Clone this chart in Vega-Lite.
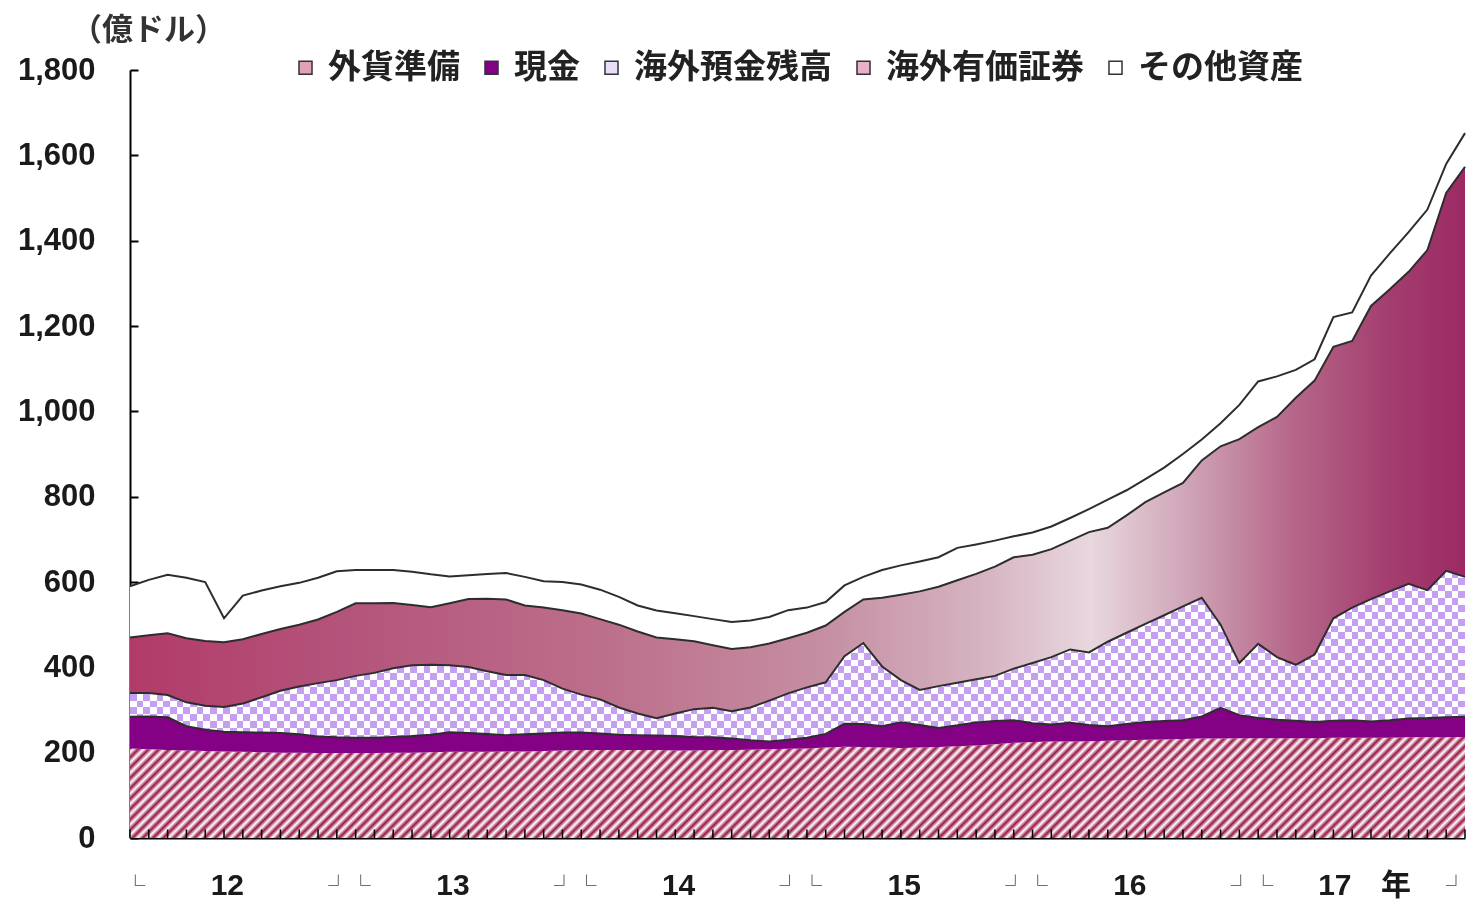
{
"$schema":"https://vega.github.io/schema/vega-lite/v6.json",
"width":1335,"height":768,
"autosize":{"type":"none"},
"padding":{"left":130,"top":70,"right":3,"bottom":62},
"background":"white",
"config":{"view":{"stroke":null},"axis":{"grid":false}},
"data":{"values":[
{"m":0,"fx":210,"cash":74,"deposit":56,"security":130,"other":120},
{"m":1,"fx":208,"cash":77,"deposit":55,"security":135,"other":130},
{"m":2,"fx":206,"cash":77,"deposit":52,"security":145,"other":137},
{"m":3,"fx":205,"cash":57,"deposit":56,"security":150,"other":142},
{"m":4,"fx":204,"cash":50,"deposit":56,"security":152,"other":138},
{"m":5,"fx":203,"cash":46,"deposit":58,"security":152,"other":56},
{"m":6,"fx":202,"cash":46,"deposit":67,"security":151,"other":102},
{"m":7,"fx":201,"cash":46,"deposit":83,"security":148,"other":102},
{"m":8,"fx":200,"cash":46,"deposit":99,"security":145,"other":100},
{"m":9,"fx":200,"cash":43,"deposit":112,"security":145,"other":98},
{"m":10,"fx":199,"cash":39,"deposit":125,"security":149,"other":98},
{"m":11,"fx":199,"cash":37,"deposit":134,"security":160,"other":95},
{"m":12,"fx":199,"cash":36,"deposit":145,"security":170,"other":78},
{"m":13,"fx":199,"cash":36,"deposit":152,"security":163,"other":78},
{"m":14,"fx":200,"cash":37,"deposit":161,"security":153,"other":77},
{"m":15,"fx":200,"cash":39,"deposit":166,"security":141,"other":78},
{"m":16,"fx":201,"cash":41,"deposit":164,"security":135,"other":77},
{"m":17,"fx":202,"cash":46,"deposit":157,"security":145,"other":63},
{"m":18,"fx":202,"cash":44,"deposit":155,"security":159,"other":56},
{"m":19,"fx":202,"cash":42,"deposit":147,"security":170,"other":58},
{"m":20,"fx":203,"cash":38,"deposit":141,"security":177,"other":62},
{"m":21,"fx":203,"cash":40,"deposit":139,"security":163,"other":67},
{"m":22,"fx":204,"cash":41,"deposit":125,"security":170,"other":62},
{"m":23,"fx":205,"cash":42,"deposit":103,"security":184,"other":66},
{"m":24,"fx":206,"cash":41,"deposit":89,"security":190,"other":68},
{"m":25,"fx":206,"cash":39,"deposit":80,"security":188,"other":69},
{"m":26,"fx":206,"cash":36,"deposit":64,"security":194,"other":65},
{"m":27,"fx":206,"cash":35,"deposit":51,"security":192,"other":61},
{"m":28,"fx":206,"cash":34,"deposit":41,"security":189,"other":63},
{"m":29,"fx":205,"cash":34,"deposit":53,"security":174,"other":61},
{"m":30,"fx":205,"cash":32,"deposit":65,"security":159,"other":59},
{"m":31,"fx":206,"cash":30,"deposit":69,"security":147,"other":61},
{"m":32,"fx":206,"cash":27,"deposit":64,"security":146,"other":63},
{"m":33,"fx":207,"cash":22,"deposit":77,"security":141,"other":63},
{"m":34,"fx":208,"cash":18,"deposit":96,"security":134,"other":62},
{"m":35,"fx":209,"cash":21,"deposit":109,"security":129,"other":66},
{"m":36,"fx":210,"cash":25,"deposit":118,"security":128,"other":59},
{"m":37,"fx":212,"cash":32,"deposit":121,"security":133,"other":55},
{"m":38,"fx":214,"cash":54,"deposit":158,"security":104,"other":62},
{"m":39,"fx":213,"cash":54,"deposit":190,"security":102,"other":53},
{"m":40,"fx":212,"cash":50,"deposit":140,"security":161,"other":65},
{"m":41,"fx":211,"cash":60,"deposit":99,"security":200,"other":69},
{"m":42,"fx":212,"cash":53,"deposit":82,"security":231,"other":70},
{"m":43,"fx":213,"cash":45,"deposit":98,"security":233,"other":69},
{"m":44,"fx":215,"cash":49,"deposit":100,"security":240,"other":76},
{"m":45,"fx":217,"cash":54,"deposit":101,"security":247,"other":69},
{"m":46,"fx":220,"cash":54,"deposit":106,"security":256,"other":61},
{"m":47,"fx":223,"cash":53,"deposit":121,"security":261,"other":49},
{"m":48,"fx":225,"cash":44,"deposit":141,"security":254,"other":52},
{"m":49,"fx":226,"cash":40,"deposit":158,"security":253,"other":53},
{"m":50,"fx":226,"cash":44,"deposit":172,"security":255,"other":53},
{"m":51,"fx":227,"cash":38,"deposit":170,"security":282,"other":54},
{"m":52,"fx":228,"cash":34,"deposit":198,"security":267,"other":66},
{"m":53,"fx":229,"cash":38,"deposit":214,"security":275,"other":59},
{"m":54,"fx":230,"cash":42,"deposit":230,"security":285,"other":54},
{"m":55,"fx":231,"cash":43,"deposit":248,"security":288,"other":58},
{"m":56,"fx":232,"cash":44,"deposit":267,"security":289,"other":68},
{"m":57,"fx":233,"cash":52,"deposit":278,"security":322,"other":49},
{"m":58,"fx":233,"cash":72,"deposit":195,"security":418,"other":54},
{"m":59,"fx":234,"cash":54,"deposit":122,"security":525,"other":80},
{"m":60,"fx":234,"cash":47,"deposit":174,"security":508,"other":107},
{"m":61,"fx":234,"cash":43,"deposit":147,"security":563,"other":95},
{"m":62,"fx":234,"cash":41,"deposit":131,"security":626,"other":65},
{"m":63,"fx":234,"cash":38,"deposit":158,"security":642,"other":50},
{"m":64,"fx":235,"cash":40,"deposit":240,"security":636,"other":70},
{"m":65,"fx":235,"cash":41,"deposit":264,"security":625,"other":67},
{"m":66,"fx":235,"cash":38,"deposit":287,"security":687,"other":71},
{"m":67,"fx":235,"cash":41,"deposit":302,"security":708,"other":84},
{"m":68,"fx":236,"cash":44,"deposit":316,"security":731,"other":93},
{"m":69,"fx":236,"cash":45,"deposit":300,"security":797,"other":95},
{"m":70,"fx":236,"cash":47,"deposit":343,"security":886,"other":68},
{"m":71,"fx":237,"cash":47,"deposit":328,"security":961,"other":79}
]},
"transform":[
{"fold":["fx","cash","deposit","security","other"],"as":["series","value"]},
{"stack":"value","groupby":["m"],"as":["v0","v1"]}
],
"encoding":{
  "x":{"field":"m","type":"quantitative","scale":{"domain":[0,71],"nice":false,"zero":false},
   "axis":{"values":[0.25,5.15,11.05,12.25,17.15,23.05,24.25,29.15,35.05,36.25,41.15,47.05,48.25,53.15,59.05,60.25,64.05,67.3,70.5],
    "labelExpr":"datum.value % 12 < 1 ? '└' : (datum.value % 12 > 10 ? '┘' : (datum.value > 67 ? '年' : '' + (12 + floor(datum.value / 12))))",
    "ticks":false,"domainColor":"#000","domainWidth":2,"grid":false,"title":null,
    "labelFont":{"condition":{"test":"datum.value % 12 < 1 || datum.value % 12 > 10","value":"Noto Sans CJK JP"},"value":"Liberation Sans, Noto Sans CJK JP"},
    "labelFontSize":{"condition":{"test":"datum.value % 12 < 1 || datum.value % 12 > 10","value":20},"value":30},
    "labelFontWeight":"bold",
    "labelColor":{"condition":{"test":"datum.value % 12 < 1 || datum.value % 12 > 10","value":"#444"},"value":"#1a1a1a"},
    "labelPadding":{"condition":{"test":"datum.value % 12 < 1 || datum.value % 12 > 10","value":38},"value":32},
    "labelOverlap":false,"labelBound":false,"labelFlush":false}},
  "y":{"field":"v1","type":"quantitative","scale":{"domain":[0,1800],"nice":false},
   "axis":{"values":[0,200,400,600,800,1000,1200,1400,1600,1800],"format":",d","tickSize":-8,"tickColor":"#000","tickWidth":2,
    "domainColor":"#000","domainWidth":2,"grid":false,
    "labelFont":"Liberation Sans","labelFontSize":31,"labelFontWeight":"bold","labelColor":"#1a1a1a","labelPadding":43,
    "title":"（億ドル）","titleAngle":0,"titleX":18,"titleY":-40,"titleAlign":"center","titleBaseline":"middle",
    "titleFont":"Noto Sans CJK JP","titleFontSize":31,"titleFontWeight":"bold","titleColor":"#333"}}
},
"layer":[
{"transform":[{"filter":"datum.series == 'fx'"}],
 "mark":{"type":"area","fill":{"gradient":"linear","x1":0,"y1":0,"x2":1.0696,"y2":0.081,"stops":[
{"offset":0,"color":"#961645"},{"offset":0.0036,"color":"#fff"},{"offset":0.0072,"color":"#961645"},{"offset":0.0108,"color":"#fff"},{"offset":0.0144,"color":"#961645"},{"offset":0.018,"color":"#fff"},{"offset":0.0216,"color":"#961645"},{"offset":0.0252,"color":"#fff"},{"offset":0.0288,"color":"#961645"},{"offset":0.0324,"color":"#fff"},
{"offset":0.036,"color":"#961645"},{"offset":0.0396,"color":"#fff"},{"offset":0.0432,"color":"#961645"},{"offset":0.0468,"color":"#fff"},{"offset":0.0504,"color":"#961645"},{"offset":0.054,"color":"#fff"},{"offset":0.0576,"color":"#961645"},{"offset":0.0612,"color":"#fff"},{"offset":0.0648,"color":"#961645"},{"offset":0.0684,"color":"#fff"},
{"offset":0.072,"color":"#961645"},{"offset":0.0756,"color":"#fff"},{"offset":0.0792,"color":"#961645"},{"offset":0.0828,"color":"#fff"},{"offset":0.0864,"color":"#961645"},{"offset":0.09,"color":"#fff"},{"offset":0.0936,"color":"#961645"},{"offset":0.0972,"color":"#fff"},{"offset":0.1008,"color":"#961645"},{"offset":0.1044,"color":"#fff"},
{"offset":0.108,"color":"#961645"},{"offset":0.1116,"color":"#fff"},{"offset":0.1152,"color":"#961645"},{"offset":0.1188,"color":"#fff"},{"offset":0.1224,"color":"#961645"},{"offset":0.126,"color":"#fff"},{"offset":0.1296,"color":"#961645"},{"offset":0.1332,"color":"#fff"},{"offset":0.1368,"color":"#961645"},{"offset":0.1404,"color":"#fff"},
{"offset":0.144,"color":"#961645"},{"offset":0.1476,"color":"#fff"},{"offset":0.1512,"color":"#961645"},{"offset":0.1548,"color":"#fff"},{"offset":0.1584,"color":"#961645"},{"offset":0.162,"color":"#fff"},{"offset":0.1656,"color":"#961645"},{"offset":0.1692,"color":"#fff"},{"offset":0.1728,"color":"#961645"},{"offset":0.1764,"color":"#fff"},
{"offset":0.18,"color":"#961645"},{"offset":0.1836,"color":"#fff"},{"offset":0.1872,"color":"#961645"},{"offset":0.1908,"color":"#fff"},{"offset":0.1944,"color":"#961645"},{"offset":0.198,"color":"#fff"},{"offset":0.2016,"color":"#961645"},{"offset":0.2052,"color":"#fff"},{"offset":0.2088,"color":"#961645"},{"offset":0.2124,"color":"#fff"},
{"offset":0.216,"color":"#961645"},{"offset":0.2196,"color":"#fff"},{"offset":0.2232,"color":"#961645"},{"offset":0.2268,"color":"#fff"},{"offset":0.2304,"color":"#961645"},{"offset":0.234,"color":"#fff"},{"offset":0.2376,"color":"#961645"},{"offset":0.2412,"color":"#fff"},{"offset":0.2448,"color":"#961645"},{"offset":0.2484,"color":"#fff"},
{"offset":0.252,"color":"#961645"},{"offset":0.2556,"color":"#fff"},{"offset":0.2592,"color":"#961645"},{"offset":0.2628,"color":"#fff"},{"offset":0.2664,"color":"#961645"},{"offset":0.27,"color":"#fff"},{"offset":0.2736,"color":"#961645"},{"offset":0.2772,"color":"#fff"},{"offset":0.2808,"color":"#961645"},{"offset":0.2844,"color":"#fff"},
{"offset":0.288,"color":"#961645"},{"offset":0.2916,"color":"#fff"},{"offset":0.2952,"color":"#961645"},{"offset":0.2988,"color":"#fff"},{"offset":0.3024,"color":"#961645"},{"offset":0.306,"color":"#fff"},{"offset":0.3096,"color":"#961645"},{"offset":0.3132,"color":"#fff"},{"offset":0.3168,"color":"#961645"},{"offset":0.3204,"color":"#fff"},
{"offset":0.324,"color":"#961645"},{"offset":0.3276,"color":"#fff"},{"offset":0.3312,"color":"#961645"},{"offset":0.3348,"color":"#fff"},{"offset":0.3384,"color":"#961645"},{"offset":0.342,"color":"#fff"},{"offset":0.3456,"color":"#961645"},{"offset":0.3492,"color":"#fff"},{"offset":0.3528,"color":"#961645"},{"offset":0.3564,"color":"#fff"},
{"offset":0.36,"color":"#961645"},{"offset":0.3636,"color":"#fff"},{"offset":0.3672,"color":"#961645"},{"offset":0.3708,"color":"#fff"},{"offset":0.3744,"color":"#961645"},{"offset":0.378,"color":"#fff"},{"offset":0.3816,"color":"#961645"},{"offset":0.3852,"color":"#fff"},{"offset":0.3888,"color":"#961645"},{"offset":0.3924,"color":"#fff"},
{"offset":0.396,"color":"#961645"},{"offset":0.3996,"color":"#fff"},{"offset":0.4032,"color":"#961645"},{"offset":0.4068,"color":"#fff"},{"offset":0.4104,"color":"#961645"},{"offset":0.414,"color":"#fff"},{"offset":0.4176,"color":"#961645"},{"offset":0.4212,"color":"#fff"},{"offset":0.4248,"color":"#961645"},{"offset":0.4284,"color":"#fff"},
{"offset":0.432,"color":"#961645"},{"offset":0.4356,"color":"#fff"},{"offset":0.4392,"color":"#961645"},{"offset":0.4428,"color":"#fff"},{"offset":0.4464,"color":"#961645"},{"offset":0.45,"color":"#fff"},{"offset":0.4536,"color":"#961645"},{"offset":0.4572,"color":"#fff"},{"offset":0.4608,"color":"#961645"},{"offset":0.4644,"color":"#fff"},
{"offset":0.468,"color":"#961645"},{"offset":0.4716,"color":"#fff"},{"offset":0.4752,"color":"#961645"},{"offset":0.4788,"color":"#fff"},{"offset":0.4824,"color":"#961645"},{"offset":0.486,"color":"#fff"},{"offset":0.4896,"color":"#961645"},{"offset":0.4932,"color":"#fff"},{"offset":0.4968,"color":"#961645"},{"offset":0.5004,"color":"#fff"},
{"offset":0.504,"color":"#961645"},{"offset":0.5076,"color":"#fff"},{"offset":0.5112,"color":"#961645"},{"offset":0.5148,"color":"#fff"},{"offset":0.5184,"color":"#961645"},{"offset":0.522,"color":"#fff"},{"offset":0.5256,"color":"#961645"},{"offset":0.5292,"color":"#fff"},{"offset":0.5328,"color":"#961645"},{"offset":0.5364,"color":"#fff"},
{"offset":0.54,"color":"#961645"},{"offset":0.5436,"color":"#fff"},{"offset":0.5472,"color":"#961645"},{"offset":0.5508,"color":"#fff"},{"offset":0.5544,"color":"#961645"},{"offset":0.558,"color":"#fff"},{"offset":0.5616,"color":"#961645"},{"offset":0.5652,"color":"#fff"},{"offset":0.5688,"color":"#961645"},{"offset":0.5724,"color":"#fff"},
{"offset":0.576,"color":"#961645"},{"offset":0.5796,"color":"#fff"},{"offset":0.5832,"color":"#961645"},{"offset":0.5868,"color":"#fff"},{"offset":0.5904,"color":"#961645"},{"offset":0.594,"color":"#fff"},{"offset":0.5976,"color":"#961645"},{"offset":0.6012,"color":"#fff"},{"offset":0.6048,"color":"#961645"},{"offset":0.6084,"color":"#fff"},
{"offset":0.612,"color":"#961645"},{"offset":0.6156,"color":"#fff"},{"offset":0.6192,"color":"#961645"},{"offset":0.6228,"color":"#fff"},{"offset":0.6264,"color":"#961645"},{"offset":0.63,"color":"#fff"},{"offset":0.6336,"color":"#961645"},{"offset":0.6372,"color":"#fff"},{"offset":0.6408,"color":"#961645"},{"offset":0.6444,"color":"#fff"},
{"offset":0.648,"color":"#961645"},{"offset":0.6516,"color":"#fff"},{"offset":0.6552,"color":"#961645"},{"offset":0.6588,"color":"#fff"},{"offset":0.6624,"color":"#961645"},{"offset":0.666,"color":"#fff"},{"offset":0.6696,"color":"#961645"},{"offset":0.6732,"color":"#fff"},{"offset":0.6768,"color":"#961645"},{"offset":0.6804,"color":"#fff"},
{"offset":0.684,"color":"#961645"},{"offset":0.6876,"color":"#fff"},{"offset":0.6912,"color":"#961645"},{"offset":0.6948,"color":"#fff"},{"offset":0.6984,"color":"#961645"},{"offset":0.702,"color":"#fff"},{"offset":0.7056,"color":"#961645"},{"offset":0.7092,"color":"#fff"},{"offset":0.7128,"color":"#961645"},{"offset":0.7164,"color":"#fff"},
{"offset":0.72,"color":"#961645"},{"offset":0.7236,"color":"#fff"},{"offset":0.7272,"color":"#961645"},{"offset":0.7308,"color":"#fff"},{"offset":0.7344,"color":"#961645"},{"offset":0.738,"color":"#fff"},{"offset":0.7416,"color":"#961645"},{"offset":0.7452,"color":"#fff"},{"offset":0.7488,"color":"#961645"},{"offset":0.7524,"color":"#fff"},
{"offset":0.756,"color":"#961645"},{"offset":0.7596,"color":"#fff"},{"offset":0.7632,"color":"#961645"},{"offset":0.7668,"color":"#fff"},{"offset":0.7704,"color":"#961645"},{"offset":0.774,"color":"#fff"},{"offset":0.7776,"color":"#961645"},{"offset":0.7812,"color":"#fff"},{"offset":0.7848,"color":"#961645"},{"offset":0.7884,"color":"#fff"},
{"offset":0.792,"color":"#961645"},{"offset":0.7956,"color":"#fff"},{"offset":0.7992,"color":"#961645"},{"offset":0.8028,"color":"#fff"},{"offset":0.8064,"color":"#961645"},{"offset":0.81,"color":"#fff"},{"offset":0.8136,"color":"#961645"},{"offset":0.8172,"color":"#fff"},{"offset":0.8208,"color":"#961645"},{"offset":0.8244,"color":"#fff"},
{"offset":0.828,"color":"#961645"},{"offset":0.8316,"color":"#fff"},{"offset":0.8352,"color":"#961645"},{"offset":0.8388,"color":"#fff"},{"offset":0.8424,"color":"#961645"},{"offset":0.846,"color":"#fff"},{"offset":0.8496,"color":"#961645"},{"offset":0.8532,"color":"#fff"},{"offset":0.8568,"color":"#961645"},{"offset":0.8604,"color":"#fff"},
{"offset":0.864,"color":"#961645"},{"offset":0.8676,"color":"#fff"},{"offset":0.8712,"color":"#961645"},{"offset":0.8748,"color":"#fff"},{"offset":0.8784,"color":"#961645"},{"offset":0.882,"color":"#fff"},{"offset":0.8856,"color":"#961645"},{"offset":0.8892,"color":"#fff"},{"offset":0.8928,"color":"#961645"},{"offset":0.8964,"color":"#fff"},
{"offset":0.9,"color":"#961645"},{"offset":0.9036,"color":"#fff"},{"offset":0.9072,"color":"#961645"},{"offset":0.9108,"color":"#fff"},{"offset":0.9144,"color":"#961645"},{"offset":0.918,"color":"#fff"},{"offset":0.9216,"color":"#961645"},{"offset":0.9252,"color":"#fff"},{"offset":0.9288,"color":"#961645"},{"offset":0.9324,"color":"#fff"},
{"offset":0.936,"color":"#961645"},{"offset":0.9396,"color":"#fff"},{"offset":0.9432,"color":"#961645"},{"offset":0.9468,"color":"#fff"},{"offset":0.9504,"color":"#961645"},{"offset":0.954,"color":"#fff"},{"offset":0.9576,"color":"#961645"},{"offset":0.9612,"color":"#fff"},{"offset":0.9648,"color":"#961645"},{"offset":0.9684,"color":"#fff"},
{"offset":0.972,"color":"#961645"},{"offset":0.9756,"color":"#fff"},{"offset":0.9792,"color":"#961645"},{"offset":0.9828,"color":"#fff"},{"offset":0.9864,"color":"#961645"},{"offset":0.99,"color":"#fff"},{"offset":0.9936,"color":"#961645"},{"offset":0.9972,"color":"#fff"},{"offset":1,"color":"#fff"}
]}},
 "encoding":{"y2":{"field":"v0"}}},
{"transform":[{"filter":"datum.series == 'cash'"}],
 "mark":{"type":"area","fill":"#840084"},
 "encoding":{"y2":{"field":"v0"}}},
{"transform":[{"filter":"datum.series == 'deposit'"}],
 "mark":{"type":"area","fill":{"gradient":"linear","x1":0,"y1":0,"x2":1,"y2":0,"stops":[
{"offset":0,"color":"#000"},
{"offset":0.005,"color":"#000"},{"offset":0.005,"color":"#fff"},{"offset":0.01,"color":"#fff"},{"offset":0.01,"color":"#000"},
{"offset":0.015,"color":"#000"},{"offset":0.015,"color":"#fff"},{"offset":0.02,"color":"#fff"},{"offset":0.02,"color":"#000"},
{"offset":0.025,"color":"#000"},{"offset":0.025,"color":"#fff"},{"offset":0.03,"color":"#fff"},{"offset":0.03,"color":"#000"},
{"offset":0.035,"color":"#000"},{"offset":0.035,"color":"#fff"},{"offset":0.04,"color":"#fff"},{"offset":0.04,"color":"#000"},
{"offset":0.045,"color":"#000"},{"offset":0.045,"color":"#fff"},{"offset":0.05,"color":"#fff"},{"offset":0.05,"color":"#000"},
{"offset":0.055,"color":"#000"},{"offset":0.055,"color":"#fff"},{"offset":0.06,"color":"#fff"},{"offset":0.06,"color":"#000"},
{"offset":0.065,"color":"#000"},{"offset":0.065,"color":"#fff"},{"offset":0.07,"color":"#fff"},{"offset":0.07,"color":"#000"},
{"offset":0.075,"color":"#000"},{"offset":0.075,"color":"#fff"},{"offset":0.08,"color":"#fff"},{"offset":0.08,"color":"#000"},
{"offset":0.085,"color":"#000"},{"offset":0.085,"color":"#fff"},{"offset":0.09,"color":"#fff"},{"offset":0.09,"color":"#000"},
{"offset":0.095,"color":"#000"},{"offset":0.095,"color":"#fff"},{"offset":0.1,"color":"#fff"},{"offset":0.1,"color":"#000"},
{"offset":0.105,"color":"#000"},{"offset":0.105,"color":"#fff"},{"offset":0.11,"color":"#fff"},{"offset":0.11,"color":"#000"},
{"offset":0.115,"color":"#000"},{"offset":0.115,"color":"#fff"},{"offset":0.12,"color":"#fff"},{"offset":0.12,"color":"#000"},
{"offset":0.125,"color":"#000"},{"offset":0.125,"color":"#fff"},{"offset":0.13,"color":"#fff"},{"offset":0.13,"color":"#000"},
{"offset":0.135,"color":"#000"},{"offset":0.135,"color":"#fff"},{"offset":0.14,"color":"#fff"},{"offset":0.14,"color":"#000"},
{"offset":0.145,"color":"#000"},{"offset":0.145,"color":"#fff"},{"offset":0.15,"color":"#fff"},{"offset":0.15,"color":"#000"},
{"offset":0.155,"color":"#000"},{"offset":0.155,"color":"#fff"},{"offset":0.16,"color":"#fff"},{"offset":0.16,"color":"#000"},
{"offset":0.165,"color":"#000"},{"offset":0.165,"color":"#fff"},{"offset":0.17,"color":"#fff"},{"offset":0.17,"color":"#000"},
{"offset":0.175,"color":"#000"},{"offset":0.175,"color":"#fff"},{"offset":0.18,"color":"#fff"},{"offset":0.18,"color":"#000"},
{"offset":0.185,"color":"#000"},{"offset":0.185,"color":"#fff"},{"offset":0.19,"color":"#fff"},{"offset":0.19,"color":"#000"},
{"offset":0.195,"color":"#000"},{"offset":0.195,"color":"#fff"},{"offset":0.2,"color":"#fff"},{"offset":0.2,"color":"#000"},
{"offset":0.205,"color":"#000"},{"offset":0.205,"color":"#fff"},{"offset":0.21,"color":"#fff"},{"offset":0.21,"color":"#000"},
{"offset":0.215,"color":"#000"},{"offset":0.215,"color":"#fff"},{"offset":0.22,"color":"#fff"},{"offset":0.22,"color":"#000"},
{"offset":0.225,"color":"#000"},{"offset":0.225,"color":"#fff"},{"offset":0.23,"color":"#fff"},{"offset":0.23,"color":"#000"},
{"offset":0.235,"color":"#000"},{"offset":0.235,"color":"#fff"},{"offset":0.24,"color":"#fff"},{"offset":0.24,"color":"#000"},
{"offset":0.245,"color":"#000"},{"offset":0.245,"color":"#fff"},{"offset":0.25,"color":"#fff"},{"offset":0.25,"color":"#000"},
{"offset":0.255,"color":"#000"},{"offset":0.255,"color":"#fff"},{"offset":0.26,"color":"#fff"},{"offset":0.26,"color":"#000"},
{"offset":0.265,"color":"#000"},{"offset":0.265,"color":"#fff"},{"offset":0.27,"color":"#fff"},{"offset":0.27,"color":"#000"},
{"offset":0.275,"color":"#000"},{"offset":0.275,"color":"#fff"},{"offset":0.28,"color":"#fff"},{"offset":0.28,"color":"#000"},
{"offset":0.285,"color":"#000"},{"offset":0.285,"color":"#fff"},{"offset":0.29,"color":"#fff"},{"offset":0.29,"color":"#000"},
{"offset":0.295,"color":"#000"},{"offset":0.295,"color":"#fff"},{"offset":0.3,"color":"#fff"},{"offset":0.3,"color":"#000"},
{"offset":0.305,"color":"#000"},{"offset":0.305,"color":"#fff"},{"offset":0.31,"color":"#fff"},{"offset":0.31,"color":"#000"},
{"offset":0.315,"color":"#000"},{"offset":0.315,"color":"#fff"},{"offset":0.32,"color":"#fff"},{"offset":0.32,"color":"#000"},
{"offset":0.325,"color":"#000"},{"offset":0.325,"color":"#fff"},{"offset":0.33,"color":"#fff"},{"offset":0.33,"color":"#000"},
{"offset":0.335,"color":"#000"},{"offset":0.335,"color":"#fff"},{"offset":0.34,"color":"#fff"},{"offset":0.34,"color":"#000"},
{"offset":0.345,"color":"#000"},{"offset":0.345,"color":"#fff"},{"offset":0.35,"color":"#fff"},{"offset":0.35,"color":"#000"},
{"offset":0.355,"color":"#000"},{"offset":0.355,"color":"#fff"},{"offset":0.36,"color":"#fff"},{"offset":0.36,"color":"#000"},
{"offset":0.365,"color":"#000"},{"offset":0.365,"color":"#fff"},{"offset":0.37,"color":"#fff"},{"offset":0.37,"color":"#000"},
{"offset":0.375,"color":"#000"},{"offset":0.375,"color":"#fff"},{"offset":0.38,"color":"#fff"},{"offset":0.38,"color":"#000"},
{"offset":0.385,"color":"#000"},{"offset":0.385,"color":"#fff"},{"offset":0.39,"color":"#fff"},{"offset":0.39,"color":"#000"},
{"offset":0.395,"color":"#000"},{"offset":0.395,"color":"#fff"},{"offset":0.4,"color":"#fff"},{"offset":0.4,"color":"#000"},
{"offset":0.405,"color":"#000"},{"offset":0.405,"color":"#fff"},{"offset":0.41,"color":"#fff"},{"offset":0.41,"color":"#000"},
{"offset":0.415,"color":"#000"},{"offset":0.415,"color":"#fff"},{"offset":0.42,"color":"#fff"},{"offset":0.42,"color":"#000"},
{"offset":0.425,"color":"#000"},{"offset":0.425,"color":"#fff"},{"offset":0.43,"color":"#fff"},{"offset":0.43,"color":"#000"},
{"offset":0.435,"color":"#000"},{"offset":0.435,"color":"#fff"},{"offset":0.44,"color":"#fff"},{"offset":0.44,"color":"#000"},
{"offset":0.445,"color":"#000"},{"offset":0.445,"color":"#fff"},{"offset":0.45,"color":"#fff"},{"offset":0.45,"color":"#000"},
{"offset":0.455,"color":"#000"},{"offset":0.455,"color":"#fff"},{"offset":0.46,"color":"#fff"},{"offset":0.46,"color":"#000"},
{"offset":0.465,"color":"#000"},{"offset":0.465,"color":"#fff"},{"offset":0.47,"color":"#fff"},{"offset":0.47,"color":"#000"},
{"offset":0.475,"color":"#000"},{"offset":0.475,"color":"#fff"},{"offset":0.48,"color":"#fff"},{"offset":0.48,"color":"#000"},
{"offset":0.485,"color":"#000"},{"offset":0.485,"color":"#fff"},{"offset":0.49,"color":"#fff"},{"offset":0.49,"color":"#000"},
{"offset":0.495,"color":"#000"},{"offset":0.495,"color":"#fff"},{"offset":0.5,"color":"#fff"},{"offset":0.5,"color":"#000"},
{"offset":0.505,"color":"#000"},{"offset":0.505,"color":"#fff"},{"offset":0.51,"color":"#fff"},{"offset":0.51,"color":"#000"},
{"offset":0.515,"color":"#000"},{"offset":0.515,"color":"#fff"},{"offset":0.52,"color":"#fff"},{"offset":0.52,"color":"#000"},
{"offset":0.525,"color":"#000"},{"offset":0.525,"color":"#fff"},{"offset":0.53,"color":"#fff"},{"offset":0.53,"color":"#000"},
{"offset":0.535,"color":"#000"},{"offset":0.535,"color":"#fff"},{"offset":0.54,"color":"#fff"},{"offset":0.54,"color":"#000"},
{"offset":0.545,"color":"#000"},{"offset":0.545,"color":"#fff"},{"offset":0.55,"color":"#fff"},{"offset":0.55,"color":"#000"},
{"offset":0.555,"color":"#000"},{"offset":0.555,"color":"#fff"},{"offset":0.56,"color":"#fff"},{"offset":0.56,"color":"#000"},
{"offset":0.565,"color":"#000"},{"offset":0.565,"color":"#fff"},{"offset":0.57,"color":"#fff"},{"offset":0.57,"color":"#000"},
{"offset":0.575,"color":"#000"},{"offset":0.575,"color":"#fff"},{"offset":0.58,"color":"#fff"},{"offset":0.58,"color":"#000"},
{"offset":0.585,"color":"#000"},{"offset":0.585,"color":"#fff"},{"offset":0.59,"color":"#fff"},{"offset":0.59,"color":"#000"},
{"offset":0.595,"color":"#000"},{"offset":0.595,"color":"#fff"},{"offset":0.6,"color":"#fff"},{"offset":0.6,"color":"#000"},
{"offset":0.605,"color":"#000"},{"offset":0.605,"color":"#fff"},{"offset":0.61,"color":"#fff"},{"offset":0.61,"color":"#000"},
{"offset":0.615,"color":"#000"},{"offset":0.615,"color":"#fff"},{"offset":0.62,"color":"#fff"},{"offset":0.62,"color":"#000"},
{"offset":0.625,"color":"#000"},{"offset":0.625,"color":"#fff"},{"offset":0.63,"color":"#fff"},{"offset":0.63,"color":"#000"},
{"offset":0.635,"color":"#000"},{"offset":0.635,"color":"#fff"},{"offset":0.64,"color":"#fff"},{"offset":0.64,"color":"#000"},
{"offset":0.645,"color":"#000"},{"offset":0.645,"color":"#fff"},{"offset":0.65,"color":"#fff"},{"offset":0.65,"color":"#000"},
{"offset":0.655,"color":"#000"},{"offset":0.655,"color":"#fff"},{"offset":0.66,"color":"#fff"},{"offset":0.66,"color":"#000"},
{"offset":0.665,"color":"#000"},{"offset":0.665,"color":"#fff"},{"offset":0.67,"color":"#fff"},{"offset":0.67,"color":"#000"},
{"offset":0.675,"color":"#000"},{"offset":0.675,"color":"#fff"},{"offset":0.68,"color":"#fff"},{"offset":0.68,"color":"#000"},
{"offset":0.685,"color":"#000"},{"offset":0.685,"color":"#fff"},{"offset":0.69,"color":"#fff"},{"offset":0.69,"color":"#000"},
{"offset":0.695,"color":"#000"},{"offset":0.695,"color":"#fff"},{"offset":0.7,"color":"#fff"},{"offset":0.7,"color":"#000"},
{"offset":0.705,"color":"#000"},{"offset":0.705,"color":"#fff"},{"offset":0.71,"color":"#fff"},{"offset":0.71,"color":"#000"},
{"offset":0.715,"color":"#000"},{"offset":0.715,"color":"#fff"},{"offset":0.72,"color":"#fff"},{"offset":0.72,"color":"#000"},
{"offset":0.725,"color":"#000"},{"offset":0.725,"color":"#fff"},{"offset":0.73,"color":"#fff"},{"offset":0.73,"color":"#000"},
{"offset":0.735,"color":"#000"},{"offset":0.735,"color":"#fff"},{"offset":0.74,"color":"#fff"},{"offset":0.74,"color":"#000"},
{"offset":0.745,"color":"#000"},{"offset":0.745,"color":"#fff"},{"offset":0.75,"color":"#fff"},{"offset":0.75,"color":"#000"},
{"offset":0.755,"color":"#000"},{"offset":0.755,"color":"#fff"},{"offset":0.76,"color":"#fff"},{"offset":0.76,"color":"#000"},
{"offset":0.765,"color":"#000"},{"offset":0.765,"color":"#fff"},{"offset":0.77,"color":"#fff"},{"offset":0.77,"color":"#000"},
{"offset":0.775,"color":"#000"},{"offset":0.775,"color":"#fff"},{"offset":0.78,"color":"#fff"},{"offset":0.78,"color":"#000"},
{"offset":0.785,"color":"#000"},{"offset":0.785,"color":"#fff"},{"offset":0.79,"color":"#fff"},{"offset":0.79,"color":"#000"},
{"offset":0.795,"color":"#000"},{"offset":0.795,"color":"#fff"},{"offset":0.8,"color":"#fff"},{"offset":0.8,"color":"#000"},
{"offset":0.805,"color":"#000"},{"offset":0.805,"color":"#fff"},{"offset":0.81,"color":"#fff"},{"offset":0.81,"color":"#000"},
{"offset":0.815,"color":"#000"},{"offset":0.815,"color":"#fff"},{"offset":0.82,"color":"#fff"},{"offset":0.82,"color":"#000"},
{"offset":0.825,"color":"#000"},{"offset":0.825,"color":"#fff"},{"offset":0.83,"color":"#fff"},{"offset":0.83,"color":"#000"},
{"offset":0.835,"color":"#000"},{"offset":0.835,"color":"#fff"},{"offset":0.84,"color":"#fff"},{"offset":0.84,"color":"#000"},
{"offset":0.845,"color":"#000"},{"offset":0.845,"color":"#fff"},{"offset":0.85,"color":"#fff"},{"offset":0.85,"color":"#000"},
{"offset":0.855,"color":"#000"},{"offset":0.855,"color":"#fff"},{"offset":0.86,"color":"#fff"},{"offset":0.86,"color":"#000"},
{"offset":0.865,"color":"#000"},{"offset":0.865,"color":"#fff"},{"offset":0.87,"color":"#fff"},{"offset":0.87,"color":"#000"},
{"offset":0.875,"color":"#000"},{"offset":0.875,"color":"#fff"},{"offset":0.88,"color":"#fff"},{"offset":0.88,"color":"#000"},
{"offset":0.885,"color":"#000"},{"offset":0.885,"color":"#fff"},{"offset":0.89,"color":"#fff"},{"offset":0.89,"color":"#000"},
{"offset":0.895,"color":"#000"},{"offset":0.895,"color":"#fff"},{"offset":0.9,"color":"#fff"},{"offset":0.9,"color":"#000"},
{"offset":0.905,"color":"#000"},{"offset":0.905,"color":"#fff"},{"offset":0.91,"color":"#fff"},{"offset":0.91,"color":"#000"},
{"offset":0.915,"color":"#000"},{"offset":0.915,"color":"#fff"},{"offset":0.92,"color":"#fff"},{"offset":0.92,"color":"#000"},
{"offset":0.925,"color":"#000"},{"offset":0.925,"color":"#fff"},{"offset":0.93,"color":"#fff"},{"offset":0.93,"color":"#000"},
{"offset":0.935,"color":"#000"},{"offset":0.935,"color":"#fff"},{"offset":0.94,"color":"#fff"},{"offset":0.94,"color":"#000"},
{"offset":0.945,"color":"#000"},{"offset":0.945,"color":"#fff"},{"offset":0.95,"color":"#fff"},{"offset":0.95,"color":"#000"},
{"offset":0.955,"color":"#000"},{"offset":0.955,"color":"#fff"},{"offset":0.96,"color":"#fff"},{"offset":0.96,"color":"#000"},
{"offset":0.965,"color":"#000"},{"offset":0.965,"color":"#fff"},{"offset":0.97,"color":"#fff"},{"offset":0.97,"color":"#000"},
{"offset":0.975,"color":"#000"},{"offset":0.975,"color":"#fff"},{"offset":0.98,"color":"#fff"},{"offset":0.98,"color":"#000"},
{"offset":0.985,"color":"#000"},{"offset":0.985,"color":"#fff"},{"offset":0.99,"color":"#fff"},{"offset":0.99,"color":"#000"},
{"offset":0.995,"color":"#000"},{"offset":0.995,"color":"#fff"},{"offset":1,"color":"#fff"}
]}},
 "encoding":{"y2":{"field":"v0"}}},
{"transform":[{"filter":"datum.series == 'deposit'"}],
 "mark":{"type":"area","blend":"difference","fill":{"gradient":"linear","x1":0,"y1":0,"x2":0,"y2":1,"stops":[
{"offset":0,"color":"#000"},
{"offset":0.04,"color":"#000"},{"offset":0.04,"color":"#fff"},{"offset":0.08,"color":"#fff"},{"offset":0.08,"color":"#000"},
{"offset":0.12,"color":"#000"},{"offset":0.12,"color":"#fff"},{"offset":0.16,"color":"#fff"},{"offset":0.16,"color":"#000"},
{"offset":0.2,"color":"#000"},{"offset":0.2,"color":"#fff"},{"offset":0.24,"color":"#fff"},{"offset":0.24,"color":"#000"},
{"offset":0.28,"color":"#000"},{"offset":0.28,"color":"#fff"},{"offset":0.32,"color":"#fff"},{"offset":0.32,"color":"#000"},
{"offset":0.36,"color":"#000"},{"offset":0.36,"color":"#fff"},{"offset":0.4,"color":"#fff"},{"offset":0.4,"color":"#000"},
{"offset":0.44,"color":"#000"},{"offset":0.44,"color":"#fff"},{"offset":0.48,"color":"#fff"},{"offset":0.48,"color":"#000"},
{"offset":0.52,"color":"#000"},{"offset":0.52,"color":"#fff"},{"offset":0.56,"color":"#fff"},{"offset":0.56,"color":"#000"},
{"offset":0.6,"color":"#000"},{"offset":0.6,"color":"#fff"},{"offset":0.64,"color":"#fff"},{"offset":0.64,"color":"#000"},
{"offset":0.68,"color":"#000"},{"offset":0.68,"color":"#fff"},{"offset":0.72,"color":"#fff"},{"offset":0.72,"color":"#000"},
{"offset":0.76,"color":"#000"},{"offset":0.76,"color":"#fff"},{"offset":0.8,"color":"#fff"},{"offset":0.8,"color":"#000"},
{"offset":0.84,"color":"#000"},{"offset":0.84,"color":"#fff"},{"offset":0.88,"color":"#fff"},{"offset":0.88,"color":"#000"},
{"offset":0.92,"color":"#000"},{"offset":0.92,"color":"#fff"},{"offset":0.96,"color":"#fff"},{"offset":0.96,"color":"#000"},
{"offset":1,"color":"#000"}
]}},
 "encoding":{"y2":{"field":"v0"}}},
{"transform":[{"filter":"datum.series == 'deposit'"}],
 "mark":{"type":"area","blend":"screen","fill":"#c5a0f0"},
 "encoding":{"y2":{"field":"v0"}}},
{"transform":[{"filter":"datum.series == 'security'"}],
 "mark":{"type":"area","fill":{"gradient":"linear","x1":0,"y1":0,"x2":1,"y2":0,"stops":[
{"offset":0,"color":"#b13b68"},{"offset":0.15,"color":"#b4527a"},{"offset":0.35,"color":"#bc6e8a"},{"offset":0.52,"color":"#c58ea3"},{"offset":0.64,"color":"#d6b4c2"},{"offset":0.72,"color":"#e8d7de"},{"offset":0.79,"color":"#d0a6b8"},{"offset":0.87,"color":"#b6688a"},{"offset":0.94,"color":"#a43f70"},{"offset":1,"color":"#9b2a63"}]}},
 "encoding":{"y2":{"field":"v0"}}},
{"transform":[{"filter":"datum.series == 'other'"}],
 "mark":{"type":"area","fill":"#ffffff"},
 "encoding":{"y2":{"field":"v0"}}},
{"transform":[{"filter":{"field":"series","oneOf":["cash","deposit","security","other"]}}],
 "mark":{"type":"line","color":"#2d2d2d","strokeWidth":2},
 "encoding":{"detail":{"field":"series"}}},
{"transform":[{"filter":"datum.series == 'fx'"}],
 "mark":{"type":"rule","color":"#000","strokeWidth":1.5},
 "encoding":{"y":{"datum":0,"type":"quantitative"},"y2":{"datum":20}}},
{"mark":{"type":"point","filled":true,"opacity":0},
 "encoding":{
  "fill":{"field":"series","type":"nominal",
   "scale":{"domain":["fx","cash","deposit","security","other"],"range":["#e0a0b8","#840084","#eadcfb","#e6b2cc","#ffffff"]},
   "legend":{"orient":"none","legendX":159,"legendY":-19,"direction":"horizontal","title":null,
    "symbolType":"square","symbolSize":170,"symbolStrokeColor":"#333","symbolStrokeWidth":1.5,"symbolOpacity":1,
    "labelFont":"Noto Sans CJK JP","labelFontSize":33,"labelFontWeight":"bold","labelColor":"#222","labelOffset":6,
    "columnPadding":15,"padding":0,"labelLimit":400,
    "labelExpr":"datum.label == 'fx' ? '外貨準備' : (datum.label == 'cash' ? '現金' : (datum.label == 'deposit' ? '海外預金残高' : (datum.label == 'security' ? '海外有価証券' : 'その他資産')))"}}}},
{"data":{"values":[{}]},
 "mark":{"type":"text","text":"海外有価証券","font":"Noto Sans CJK JP","fontSize":33,"fontWeight":"bold","color":"#333"},
 "encoding":{"x":{"datum":50.3,"type":"quantitative"},"y":{"datum":1019,"type":"quantitative"}}},
{"data":{"values":[{}]},
 "mark":{"type":"text","text":"海外預金残高","font":"Noto Sans CJK JP","fontSize":33,"fontWeight":"bold","color":"#333"},
 "encoding":{"x":{"datum":40.4,"type":"quantitative"},"y":{"datum":787,"type":"quantitative"}}},
{"data":{"values":[{}]},
 "mark":{"type":"rule","color":"#222","strokeWidth":2},
 "encoding":{"x":{"datum":42.4,"type":"quantitative"},"y":{"datum":729,"type":"quantitative"},"x2":{"datum":50.4},"y2":{"datum":328}}},
{"data":{"values":[{}]},
 "mark":{"type":"rule","color":"#222","strokeWidth":2},
 "encoding":{"x":{"datum":50.7,"type":"quantitative"},"y":{"datum":916,"type":"quantitative"},"x2":{"datum":56.3},"y2":{"datum":652}}},
{"data":{"values":[{}]},
 "mark":{"type":"point","shape":"triangle-up","filled":true,"size":70,"angle":138.6,"color":"#222","opacity":1},
 "encoding":{"x":{"datum":50.22,"type":"quantitative"},"y":{"datum":337,"type":"quantitative"}}},
{"data":{"values":[{}]},
 "mark":{"type":"point","shape":"triangle-up","filled":true,"size":70,"angle":137.1,"color":"#222","opacity":1},
 "encoding":{"x":{"datum":56.12,"type":"quantitative"},"y":{"datum":660,"type":"quantitative"}}}
]
}
